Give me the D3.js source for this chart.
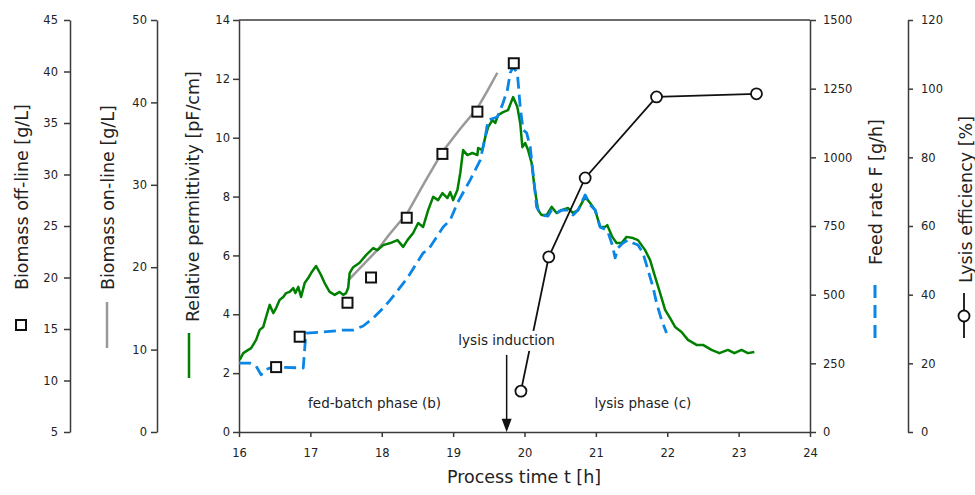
<!DOCTYPE html>
<html><head><meta charset="utf-8">
<script src="https://cdn.jsdelivr.net/npm/d3@7"></script>
<style>body{margin:0;background:#fff}svg{display:block}text{font-family:"DejaVu Sans",Verdana,sans-serif}</style>
</head><body><svg id="c" width="975" height="495"></svg>
<script>
// ---------- DATA ----------
const xTicks = [16,17,18,19,20,21,22,23,24];
const permTicks = [0,2,4,6,8,10,12,14];
const onlineTicks = [0,10,20,30,40,50];
const offlineTicks = [5,10,15,20,25,30,35,40,45];
const feedTicks = [0,250,500,750,1000,1250,1500];
const lysisTicks = [0,20,40,60,80,100,120];

// Relative permittivity (green)
const permTime = [16.01,16.06,16.13,16.17,16.24,16.29,16.34,16.38,16.43,16.48,16.52,16.57,16.62,16.66,16.71,16.76,16.79,16.83,16.87,16.92,16.97,17.01,17.08,17.15,17.20,17.27,17.34,17.41,17.46,17.50,17.53,17.55,17.60,17.69,17.78,17.88,17.94,18.02,18.12,18.22,18.30,18.36,18.44,18.51,18.58,18.65,18.72,18.79,18.85,18.92,18.96,19.00,19.06,19.10,19.14,19.20,19.27,19.34,19.35,19.41,19.45,19.49,19.55,19.59,19.63,19.70,19.77,19.84,19.90,19.94,19.97,20.01,20.05,20.10,20.14,20.19,20.24,20.31,20.38,20.45,20.52,20.61,20.68,20.75,20.85,20.92,20.99,21.06,21.13,21.16,21.23,21.29,21.36,21.43,21.52,21.59,21.69,21.76,21.83,21.90,21.97,22.04,22.11,22.20,22.29,22.41,22.50,22.62,22.73,22.85,22.94,23.04,23.13,23.22];
const permValue = [2.45,2.68,2.79,2.85,3.13,3.47,3.57,3.91,4.32,4.04,4.21,4.49,4.59,4.72,4.76,4.89,4.72,4.93,4.59,5.06,5.23,5.40,5.64,5.33,5.06,4.76,4.66,4.76,4.66,4.72,4.90,5.40,5.60,5.75,6.01,6.25,6.18,6.35,6.42,6.52,6.29,6.52,6.76,7.10,6.97,7.54,7.99,7.88,8.12,7.95,8.15,7.88,8.22,8.80,9.58,9.41,9.48,9.41,9.65,9.58,10.02,10.36,10.60,10.50,10.77,10.87,10.94,11.38,11.04,10.50,9.68,9.82,9.58,9.14,8.32,7.54,7.37,7.37,7.65,7.44,7.54,7.61,7.44,7.54,7.99,7.78,7.54,6.97,6.97,7.03,6.63,6.42,6.42,6.63,6.59,6.52,6.18,5.84,5.27,4.72,4.15,3.87,3.57,3.40,3.13,2.96,2.96,2.79,2.68,2.79,2.68,2.79,2.68,2.72];

// Feed rate F (blue dashed)
const feedTime = [16.00,16.15,16.24,16.31,16.36,16.48,16.90,16.93,16.94,17.18,17.46,17.60,17.74,17.88,18.02,18.12,18.36,18.58,18.65,18.86,18.96,19.06,19.24,19.38,19.45,19.49,19.62,19.69,19.76,19.80,19.84,19.90,19.94,19.98,20.03,20.08,20.12,20.17,20.24,20.33,20.38,20.45,20.52,20.61,20.68,20.75,20.85,20.92,20.99,21.06,21.16,21.23,21.27,21.31,21.38,21.45,21.52,21.59,21.66,21.73,21.80,21.85,21.92,21.99];
const feedValue = [251,251,240,208,226,237,233,335,360,364,371,371,386,415,451,481,561,652,663,746,772,834,918,990,1074,1136,1147,1191,1245,1307,1329,1307,1183,1100,1089,1038,943,819,790,786,808,797,808,808,790,808,863,827,808,746,735,681,634,670,688,699,688,681,652,590,528,470,408,360];

// Biomass on-line (grey)
const onlineTime = [17.53,17.94,18.10,18.36,18.60,18.85,19.10,19.34,19.48,19.62];
const onlineValue = [18.4,22.1,23.9,26.6,30.3,34.0,36.8,39.3,41.4,43.6];

// Biomass off-line (squares)
const offlineTime = [16.52,16.85,17.52,17.85,18.35,18.85,19.34,19.85];
const offlineValue = [11.3,14.25,17.55,20.0,25.8,32.0,36.1,40.8];

// Lysis efficiency (circles)
const lysisTime = [19.95,20.34,20.85,21.85,23.25];
const lysisValue = [11.9,51.0,74.0,97.6,98.5];

// Annotations
const inductionTime = 19.75;

// ---------- CHART ----------
const svg = d3.select("#c");
const X0 = 239, X1 = 810, Y0 = 432, Y1 = 20;
const AX = "#3a3a3a", TXT = "#222";
const FONT = '"DejaVu Sans",Verdana,sans-serif';

const x = d3.scaleLinear().domain([16,24]).range([X0,X1]);
const yP = d3.scaleLinear().domain([0,14]).range([Y0,Y1]);
const yOn = d3.scaleLinear().domain([0,50]).range([Y0,Y1]);
const yOff = d3.scaleLinear().domain([5,45]).range([Y0,Y1]);
const yF = d3.scaleLinear().domain([0,1500]).range([Y0,Y1]);
const yL = d3.scaleLinear().domain([0,120]).range([Y0,Y1]);

function styleAxis(g){
  g.attr("font-family", FONT).attr("font-size", 11.5);
  g.select(".domain").attr("stroke", AX).attr("stroke-width", 1.5);
  g.selectAll(".tick line").attr("stroke", AX).attr("stroke-width", 1.5);
  g.selectAll(".tick text").attr("fill", TXT);
}
const fmt = d3.format("d");

svg.append("g").attr("transform", `translate(0,${Y0})`)
  .call(d3.axisBottom(x).tickValues(xTicks).tickFormat(fmt).tickSize(5).tickPadding(12).tickSizeOuter(0)).call(styleAxis);
svg.append("g").attr("transform", `translate(${X0},0)`)
  .call(d3.axisLeft(yP).tickValues(permTicks).tickFormat(fmt).tickSize(6).tickPadding(3).tickSizeOuter(0)).call(styleAxis);
svg.append("g").attr("transform", `translate(157,0)`)
  .call(d3.axisLeft(yOn).tickValues(onlineTicks).tickFormat(fmt).tickSize(6).tickPadding(4).tickSizeOuter(0)).call(styleAxis);
svg.append("g").attr("transform", `translate(70,0)`)
  .call(d3.axisLeft(yOff).tickValues(offlineTicks).tickFormat(fmt).tickSize(6).tickPadding(6).tickSizeOuter(0)).call(styleAxis);
svg.append("g").attr("transform", `translate(${X1},0)`)
  .call(d3.axisRight(yF).tickValues(feedTicks).tickFormat(fmt).tickSize(6).tickPadding(7).tickSizeOuter(0)).call(styleAxis);
svg.append("g").attr("transform", `translate(908,0)`)
  .call(d3.axisRight(yL).tickValues(lysisTicks).tickFormat(fmt).tickSize(5).tickPadding(8).tickSizeOuter(0)).call(styleAxis);

// top frame
svg.append("line").attr("x1", X0).attr("x2", X1).attr("y1", Y1).attr("y2", Y1)
  .attr("stroke", AX).attr("stroke-width", 1.5);

// axis titles (rotated) + legend symbols
function vlabel(cx, yBottom, text){
  svg.append("text").attr("transform", `translate(${cx},${yBottom}) rotate(-90)`)
    .attr("text-anchor", "start").attr("dy", "0.35em")
    .attr("font-size", 17.5).attr("fill", TXT).text(text);
}
vlabel(22, 290, "Biomass off-line [g/L]");
vlabel(108, 290, "Biomass on-line [g/L]");
vlabel(193, 322, "Relative permittivity [pF/cm]");
vlabel(876, 265, "Feed rate F [g/h]");
vlabel(966, 283, "Lysis efficiency [%]");

svg.append("rect").attr("x", 16).attr("y", 320).attr("width", 10).attr("height", 10)
  .attr("fill", "#fff").attr("stroke", "#111").attr("stroke-width", 2);
svg.append("line").attr("x1", 107).attr("x2", 107).attr("y1", 302).attr("y2", 348)
  .attr("stroke", "#999").attr("stroke-width", 2.5);
svg.append("line").attr("x1", 189).attr("x2", 189).attr("y1", 333).attr("y2", 378)
  .attr("stroke", "#008000").attr("stroke-width", 2.5);
svg.append("line").attr("x1", 875).attr("x2", 875).attr("y1", 285).attr("y2", 338)
  .attr("stroke", "#0a86e6").attr("stroke-width", 3).attr("stroke-dasharray", "13,7");
svg.append("line").attr("x1", 964).attr("x2", 964).attr("y1", 293).attr("y2", 338)
  .attr("stroke", "#111").attr("stroke-width", 1.8);
svg.append("circle").attr("cx", 964).attr("cy", 316).attr("r", 5.5)
  .attr("fill", "#fff").attr("stroke", "#111").attr("stroke-width", 1.8);

svg.append("text").attr("x", 524).attr("y", 483).attr("text-anchor", "middle")
  .attr("font-size", 17.5).attr("fill", TXT).text("Process time t [h]");

// series
const lineOf = (ts, vs, ys) => d3.line().x(d => x(d[0])).y(d => ys(d[1]))(d3.zip(ts, vs));

svg.append("path").attr("d", lineOf(onlineTime, onlineValue, yOn))
  .attr("fill", "none").attr("stroke", "#999").attr("stroke-width", 2.5).attr("stroke-linejoin", "round");
svg.append("path").attr("d", lineOf(permTime, permValue, yP))
  .attr("fill", "none").attr("stroke", "#008000").attr("stroke-width", 2.5).attr("stroke-linejoin", "round");
svg.append("path").attr("d", lineOf(feedTime, feedValue, yF))
  .attr("fill", "none").attr("stroke", "#0a86e6").attr("stroke-width", 2.8)
  .attr("stroke-dasharray", "12,6").attr("stroke-linejoin", "round");

svg.selectAll("rect.off").data(d3.zip(offlineTime, offlineValue)).join("rect").attr("class", "off")
  .attr("x", d => x(d[0]) - 5).attr("y", d => yOff(d[1]) - 5).attr("width", 10).attr("height", 10)
  .attr("fill", "#fff").attr("stroke", "#111").attr("stroke-width", 2);

svg.append("path").attr("d", lineOf(lysisTime, lysisValue, yL))
  .attr("fill", "none").attr("stroke", "#111").attr("stroke-width", 1.8);

// annotations
const labInd = svg.append("text").attr("x", x(inductionTime)).attr("y", yP(2.96))
  .attr("text-anchor", "middle").attr("font-size", 13.5).attr("fill", TXT).text("lysis induction");
const bb = labInd.node().getBBox();
svg.append("rect").attr("x", bb.x - 2).attr("y", bb.y - 1).attr("width", bb.width + 4).attr("height", bb.height + 4).attr("fill", "#fff");
labInd.raise();

svg.selectAll("circle.lys").data(d3.zip(lysisTime, lysisValue)).join("circle").attr("class", "lys")
  .attr("cx", d => x(d[0])).attr("cy", d => yL(d[1])).attr("r", 5.5)
  .attr("fill", "#fff").attr("stroke", "#111").attr("stroke-width", 1.8);

svg.append("text").attr("x", x(17.9)).attr("y", yP(0.82)).attr("text-anchor", "middle")
  .attr("font-size", 13.5).attr("fill", TXT).text("fed-batch phase (b)");
svg.append("text").attr("x", x(21.66)).attr("y", yP(0.82)).attr("text-anchor", "middle")
  .attr("font-size", 13.5).attr("fill", TXT).text("lysis phase (c)");

const ax = x(inductionTime);
svg.append("line").attr("x1", ax).attr("x2", ax).attr("y1", yP(2.62)).attr("y2", yP(0.4))
  .attr("stroke", "#111").attr("stroke-width", 1.5);
svg.append("path").attr("d", `M${ax - 5},${yP(0.45)} L${ax + 5},${yP(0.45)} L${ax},${yP(0)} Z`).attr("fill", "#111");
</script></body></html>
